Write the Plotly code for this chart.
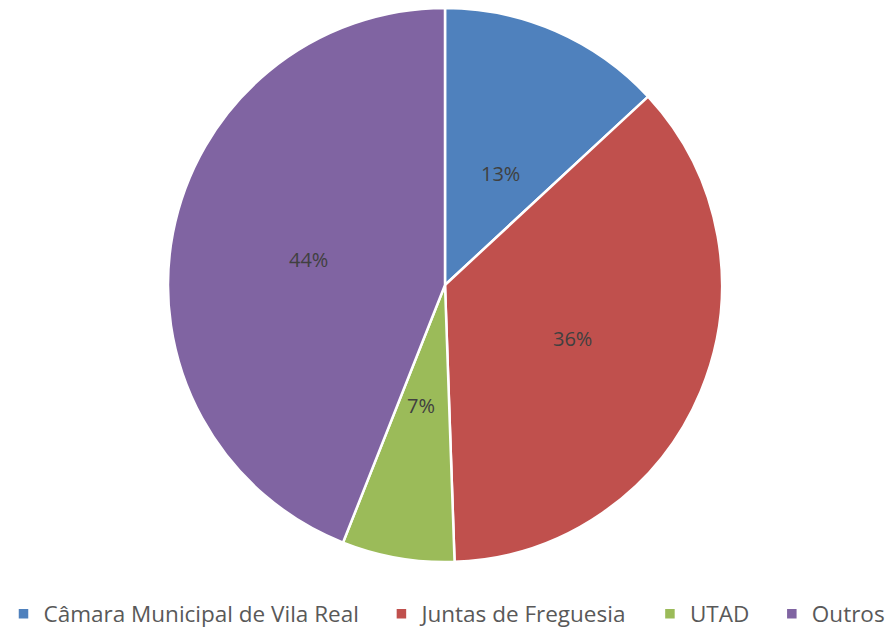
import math
import plotly.graph_objects as go

categories = ["Câmara Municipal de Vila Real", "Juntas de Freguesia", "UTAD", "Outros"]
values = [13.1, 36.35, 6.55, 44.0]
colors = ["#4F81BD", "#C0504D", "#9BBB59", "#8064A2"]

W, H = 894, 629
M = dict(l=0, r=4, t=8, b=67)
pw = W - M["l"] - M["r"]
ph = H - M["t"] - M["b"]
R = min(pw, ph) / 2.0

# legend entries padded with non-breaking spaces to widen the gaps between items
legend_labels = [c + "\u00a0" * 3 if i < len(categories) - 1 else c
                 for i, c in enumerate(categories)]

fig = go.Figure(go.Pie(
    labels=legend_labels,
    values=values,
    sort=False,
    direction="clockwise",
    rotation=0,
    marker=dict(colors=colors, line=dict(color="white", width=2.5)),
    textinfo="none",
    hoverinfo="label+percent",
))

total = sum(values)
cum = 0.0
for v in values:
    mid = (cum + v / 2.0) / total * 2 * math.pi
    cum += v
    x = 0.5 + 0.5 * R * math.sin(mid) / pw
    y = 0.5 + 0.5 * R * math.cos(mid) / ph
    fig.add_annotation(
        x=x, y=y, xref="paper", yref="paper",
        text=f"{round(v / total * 100):.0f}%",
        showarrow=False,
        font=dict(family="Open Sans", size=20, color="#404040"),
    )

fig.update_layout(
    width=W, height=H,
    margin=dict(**M, autoexpand=False),
    paper_bgcolor="white",
    plot_bgcolor="white",
    showlegend=True,
    legend=dict(
        orientation="h",
        x=0.5, xanchor="center", xref="container",
        y=(H - 614) / H, yanchor="middle", yref="container",
        font=dict(family="Open Sans", size=22.5, color="#595959"),
        itemwidth=30,
    ),
)

fig.write_html("out.html",
               config={"displayModeBar": False},
               post_script="document.body.style.margin='0';document.body.style.overflow='hidden';")
